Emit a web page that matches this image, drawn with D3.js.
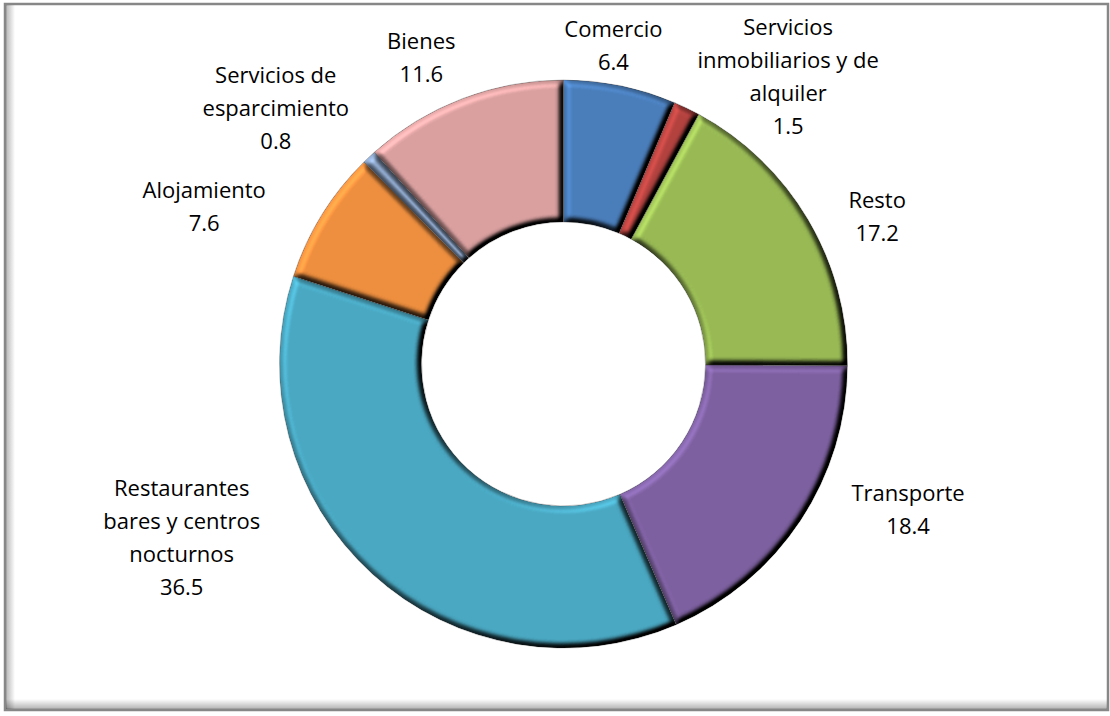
<!DOCTYPE html>
<html>
<head>
<meta charset="utf-8">
<script src="https://cdn.jsdelivr.net/npm/d3@7"></script>
<style>
  body { margin: 0; background: #fff; }
  svg { display: block; }
  text { font-family: "Open Sans", sans-serif; font-size: 22px; fill: #000; }
</style>
</head>
<body>
<svg id="chart" width="1110" height="716"></svg>
<script>
// slices, clockwise from 12 o'clock
var categories = [
  ['Comercio'],
  ['Servicios', 'inmobiliarios y de', 'alquiler'],
  ['Resto'],
  ['Transporte'],
  ['Restaurantes', 'bares y centros', 'nocturnos'],
  ['Alojamiento'],
  ['Servicios de', 'esparcimiento'],
  ['Bienes']
];
var values = [6.4, 1.5, 17.2, 18.4, 36.5, 7.6, 0.8, 11.6];
var colors = ['#4a7ebb', '#b3423f', '#98b954', '#7d60a0', '#4aa8c2', '#ee8f3f', '#8fa8cc', '#daa0a0'];
// small moves of each label away from the plain label ring
var nudge = [[-18, 15], [77, 19], [21, 26], [61, -42], [-153, -78], [-70, 21], [-55, -8], [-21, 11]];

var W = 1110, H = 716,
    cx = 563.5, cy = 364,
    outer = 284, inner = 142,
    lineH = 33;

var svg = d3.select('#chart');
var defs = svg.append('defs');

// bevel: light from the top left over a blurred alpha edge
var f = defs.append('filter').attr('id', 'bevel')
  .attr('x', '-10%').attr('y', '-10%').attr('width', '120%').attr('height', '120%')
  .attr('color-interpolation-filters', 'sRGB');
f.append('feGaussianBlur').attr('in', 'SourceAlpha').attr('stdDeviation', 3).attr('result', 'blur');
f.append('feDiffuseLighting').attr('in', 'blur').attr('surfaceScale', 8)
  .attr('diffuseConstant', 1).attr('lighting-color', '#fff').attr('result', 'light')
  .append('feDistantLight').attr('azimuth', 225).attr('elevation', 55);
f.append('feComposite').attr('in', 'SourceGraphic').attr('in2', 'light')
  .attr('operator', 'arithmetic').attr('k1', 1.22).attr('k2', 0).attr('k3', 0).attr('k4', 0)
  .attr('result', 'lit');
f.append('feComposite').attr('in', 'lit').attr('in2', 'SourceAlpha').attr('operator', 'in');

// frame shadows
var gl = defs.append('linearGradient').attr('id', 'shadeL');
gl.append('stop').attr('offset', 0).attr('stop-color', '#000').attr('stop-opacity', 0.28);
gl.append('stop').attr('offset', 1).attr('stop-color', '#000').attr('stop-opacity', 0);
var gb = defs.append('linearGradient').attr('id', 'shadeB')
  .attr('x1', 0).attr('y1', 0).attr('x2', 0).attr('y2', 1);
gb.append('stop').attr('offset', 0).attr('stop-color', '#000').attr('stop-opacity', 0);
gb.append('stop').attr('offset', 1).attr('stop-color', '#000').attr('stop-opacity', 0.3);

svg.append('rect').attr('x', 5).attr('y', 4).attr('width', 1103).attr('height', 706)
  .attr('fill', '#fff').attr('stroke', '#878787').attr('stroke-width', 2.5);
svg.append('rect').attr('x', 6).attr('y', 5).attr('width', 9).attr('height', 704)
  .attr('fill', 'url(#shadeL)');
svg.append('rect').attr('x', 6).attr('y', 699).attr('width', 1101).attr('height', 10)
  .attr('fill', 'url(#shadeB)');

var pie = d3.pie().sort(null).value(function(d){ return d; });
var arc = d3.arc().innerRadius(inner).outerRadius(outer);
var labelArc = d3.arc().innerRadius(340).outerRadius(340);

var arcs = pie(values);

var g = svg.append('g').attr('transform', 'translate(' + cx + ',' + cy + ')');

g.selectAll('path.slice')
  .data(arcs)
  .enter().append('path')
  .attr('class', 'slice')
  .attr('d', arc)
  .attr('fill', function(d, i){ return colors[i]; })
  .attr('filter', 'url(#bevel)');

// thin dark seams between slices
g.selectAll('path.seam')
  .data(arcs)
  .enter().append('path')
  .attr('class', 'seam')
  .attr('d', arc)
  .attr('fill', 'none')
  .attr('stroke', 'rgba(40,40,40,0.35)')
  .attr('stroke-width', 0.8);

var labels = g.selectAll('text.label')
  .data(arcs)
  .enter().append('text')
  .attr('class', 'label')
  .attr('text-anchor', 'middle');

labels.each(function(d, i){
  var c = labelArc.centroid(d),
      x = c[0] + nudge[i][0],
      y = c[1] + nudge[i][1],
      lines = categories[i].concat([d3.format('.1f')(values[i])]),
      top = y - (lines.length - 1) * lineH / 2;
  d3.select(this).selectAll('tspan')
    .data(lines)
    .enter().append('tspan')
    .attr('x', x)
    .attr('y', function(l, j){ return top + j * lineH + 8; })
    .text(function(l){ return l; });
});
</script>
</body>
</html>
